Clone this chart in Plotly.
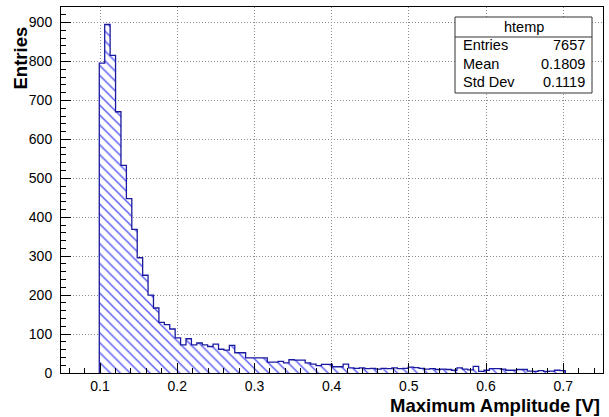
import plotly.graph_objects as go

# ---- data ----
bin_start = 0.099
bin_width = 0.00702
counts = [796, 895, 816, 671, 533, 448, 369, 296, 251, 200,
          167, 130, 124, 113, 90, 72, 88, 72, 77, 72,
          68, 74, 61, 59, 71, 52, 52, 39, 39, 39,
          39, 28, 28, 30, 26, 34, 33, 33, 26, 23,
          19, 22, 22, 16, 16, 23, 13, 12, 13, 11,
          12, 10, 12, 11, 13, 11, 12, 15, 14, 12,
          10, 11, 9, 10, 9, 7, 13, 10, 8, 17,
          4, 7, 11, 11, 10, 7, 7, 9, 9, 5,
          4, 6, 4, 5, 7, 6]
stats_labels = ["Entries", "Mean", "Std Dev"]
stats_values = ["7657", "0.1809", "0.1119"]
hist_name = "htemp"
x_title = "Maximum Amplitude [V]"
y_title = "Entries"
x_range = [0.0494, 0.7515]
y_range = [0, 940]

edges = [bin_start + i * bin_width for i in range(len(counts) + 1)]
centers = [(edges[i] + edges[i + 1]) / 2 for i in range(len(counts))]

FONT = "Liberation Sans, Arial, Helvetica, sans-serif"
HATCH = "#4a4af2"
OUTLINE = "#1a1aa0"

fig = go.Figure()
fig.add_trace(go.Bar(
    x=centers, y=counts, width=[bin_width] * len(counts),
    marker=dict(color="white", line=dict(width=0),
                pattern=dict(shape="\\", fgcolor=HATCH, bgcolor="white",
                             size=7, solidity=0.18, fillmode="replace")),
    hoverinfo="skip", showlegend=False))

# step outline
sx = [edges[0]] + edges[:-1] + [edges[-1], edges[-1]]
sy = [0] + counts + [counts[-1], 0]
fig.add_trace(go.Scatter(x=sx, y=sy, mode="lines", line=dict(color=OUTLINE, width=1.3, shape="hv"),
                         hoverinfo="skip", showlegend=False))

L, R, T, B = 61, 6, 7, 44
W, H = 609, 417
pw, ph = W - L - R, H - T - B

def px(x):
    return (x - L) / pw

def py(y):
    return (H - B - y) / ph

GRID = "#8a8a8a"
fig.update_layout(
    width=W, height=H, margin=dict(l=L, r=R, t=T, b=B),
    paper_bgcolor="white", plot_bgcolor="white",
    font=dict(family=FONT, size=14, color="black"),
    bargap=0,
    xaxis=dict(range=x_range, dtick=0.1, tick0=0, tickformat=".1f",
               showline=True, mirror=True, linecolor="black", linewidth=1,
               ticks="inside", ticklen=10, tickcolor="black",
               showgrid=True, gridcolor=GRID, griddash="1px,2px", gridwidth=1,
               zeroline=False, tickfont=dict(size=14), ticklabelstandoff=0,
               minor=dict(dtick=0.02, tick0=0, ticks="inside", ticklen=5, tickcolor="black", showgrid=False)),
    yaxis=dict(range=y_range, dtick=100, tick0=0,
               showline=True, mirror=True, linecolor="black", linewidth=1,
               ticks="inside", ticklen=10, tickcolor="black",
               showgrid=True, gridcolor=GRID, griddash="1px,2px", gridwidth=1,
               zeroline=False, tickfont=dict(size=14), ticklabelstandoff=5,
               minor=dict(dtick=20, tick0=0, ticks="inside", ticklen=5, tickcolor="black", showgrid=False)),
)

# axis titles
fig.add_annotation(text="<b>%s</b>" % x_title, xref="paper", yref="paper",
                   x=px(602), y=py(405), xanchor="right", yanchor="middle",
                   showarrow=False, font=dict(size=18.5, family=FONT))
fig.add_annotation(text="<b>%s</b>" % y_title, xref="paper", yref="paper",
                   x=px(20), y=py(25), xanchor="center", yanchor="top", textangle=-90,
                   showarrow=False, font=dict(size=18.5, family=FONT))

# stats box
bx0, bx1, by0, by1, bsep = 455, 592, 17, 93, 37
fig.add_shape(type="rect", xref="paper", yref="paper", x0=px(bx0), x1=px(bx1), y0=py(by1), y1=py(by0),
              line=dict(color="#333", width=1), fillcolor="white", layer="above")
fig.add_shape(type="line", xref="paper", yref="paper", x0=px(bx0), x1=px(bx1), y0=py(bsep), y1=py(bsep),
              line=dict(color="#333", width=1), layer="above")
fig.add_annotation(text=hist_name, xref="paper", yref="paper", x=px((bx0 + bx1) / 2), y=py(27),
                   xanchor="center", yanchor="middle", showarrow=False, font=dict(size=14.5))
rows_y = [45, 63.5, 82]
for lab, val, yy in zip(stats_labels, stats_values, rows_y):
    fig.add_annotation(text=lab, xref="paper", yref="paper", x=px(461), y=py(yy),
                       xanchor="left", yanchor="middle", showarrow=False, font=dict(size=14.5))
    fig.add_annotation(text=val, xref="paper", yref="paper", x=px(587), y=py(yy),
                       xanchor="right", yanchor="middle", showarrow=False, font=dict(size=14.5))

fig.write_html("out.html")
